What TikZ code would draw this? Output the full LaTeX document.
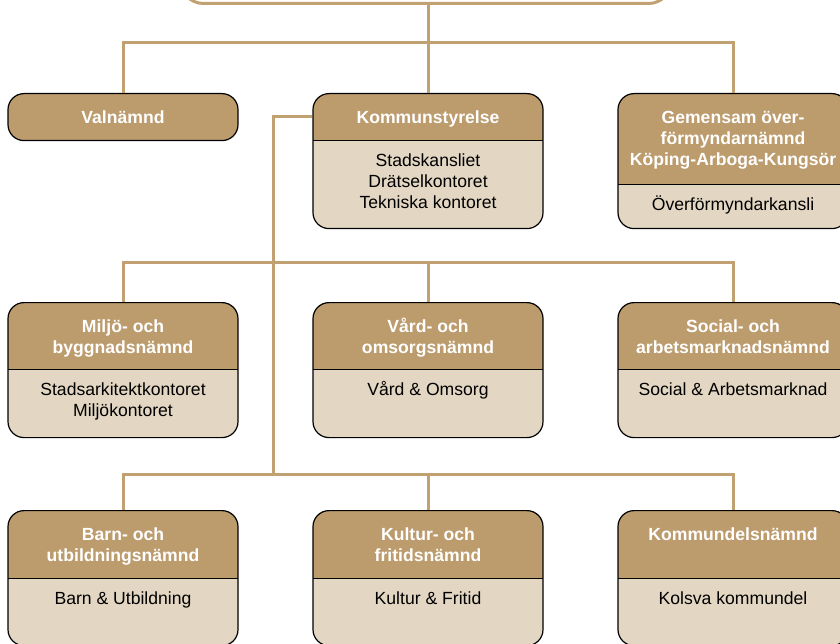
\documentclass[tikz,border=0pt]{standalone}
\usepackage{fontspec}
\setmainfont{Liberation Sans}
\usepackage{tikz}

\definecolor{headc}{HTML}{BC9B6D}
\definecolor{bodyc}{HTML}{E3D7C3}
\definecolor{linkc}{HTML}{C1A071}

\begin{document}
\begin{tikzpicture}[x=1pt, y=-1pt, >=latex,
    link/.style={draw=linkc, line width=3pt},
    org/.style 2 args={draw=black, line width=1.2pt, rounded corners=16pt, fill=bodyc,
        minimum width=230pt, minimum height=#1, inner sep=0pt, anchor=north,
        path picture={
            \fill[headc, sharp corners] (path picture bounding box.north west) rectangle ([yshift=-#2]path picture bounding box.north east);
            \draw[black, line width=1.2pt, sharp corners] ([yshift=-#2]path picture bounding box.north west) -- ([yshift=-#2]path picture bounding box.north east);
        }},
    head/.style={text=white, font=\bfseries\fontsize{17.6}{21}\selectfont, align=center, anchor=north, inner sep=0pt},
    sub/.style={text=black, font=\fontsize{17.6}{21}\selectfont, align=center, anchor=north, inner sep=0pt}]
        \clip (0,0) rectangle (840,644); % рамка

        \node[draw=linkc, line width=3pt, fill=white, rounded corners=23pt, minimum width=491pt, minimum height=80pt, inner sep=0pt, anchor=south] (kf) at (426,5) {}; % верхний блок

        % первый ряд
        \node[org={47pt}{47pt}] (val) at (123,93) {};
        \node[head] (val-h) at ([yshift=-16pt]val.north) {\strut Valnämnd};
        \node[org={135pt}{47pt}] (ks) at (428,93) {};
        \node[head] (ks-h) at ([yshift=-16pt]ks.north) {\strut Kommunstyrelse};
        \node[sub] (ks-b) at ([yshift=-59pt]ks.north) {\strut Stadskansliet\\Drätselkontoret\\Tekniska kontoret};
        \node[org={135pt}{91pt}] (gem) at (733,93) {};
        \node[head] (gem-h) at ([yshift=-16pt]gem.north) {\strut Gemensam över-\\förmyndarnämnd\\Köping-Arboga-Kungsör};
        \node[sub] (gem-b) at ([yshift=-103pt]gem.north) {\strut Överförmyndarkansli};

        % второй ряд
        \node[org={135pt}{67pt}] (milj) at (123,302) {};
        \node[head] (milj-h) at ([yshift=-16pt]milj.north) {\strut Miljö- och\\byggnadsnämnd};
        \node[sub] (milj-b) at ([yshift=-79pt]milj.north) {\strut Stadsarkitektkontoret\\Miljökontoret};
        \node[org={135pt}{67pt}] (vard) at (428,302) {};
        \node[head] (vard-h) at ([yshift=-16pt]vard.north) {\strut Vård- och\\omsorgsnämnd};
        \node[sub] (vard-b) at ([yshift=-79pt]vard.north) {\strut Vård \& Omsorg};
        \node[org={135pt}{67pt}] (soc) at (733,302) {};
        \node[head] (soc-h) at ([yshift=-16pt]soc.north) {\strut Social- och\\arbetsmarknadsnämnd};
        \node[sub] (soc-b) at ([yshift=-79pt]soc.north) {\strut Social \& Arbetsmarknad};

        % третий ряд
        \node[org={135pt}{68pt}] (barn) at (123,510) {};
        \node[head] (barn-h) at ([yshift=-16pt]barn.north) {\strut Barn- och\\utbildningsnämnd};
        \node[sub] (barn-b) at ([yshift=-80pt]barn.north) {\strut Barn \& Utbildning};
        \node[org={135pt}{68pt}] (kult) at (428,510) {};
        \node[head] (kult-h) at ([yshift=-16pt]kult.north) {\strut Kultur- och\\fritidsnämnd};
        \node[sub] (kult-b) at ([yshift=-80pt]kult.north) {\strut Kultur \& Fritid};
        \node[org={135pt}{68pt}] (kdn) at (733,510) {};
        \node[head] (kdn-h) at ([yshift=-16pt]kdn.north) {\strut Kommundelsnämnd};
        \node[sub] (kdn-b) at ([yshift=-80pt]kdn.north) {\strut Kolsva kommundel};

        % линии
        \coordinate (j1) at (428,43);
        \coordinate (j2) at (428,263);
        \coordinate (j3) at (428,474);
        \coordinate (k1) at (273,474);
        \draw[link] (kf.south -| ks.north) -- (ks.north);
        \draw[link] (val.north) |- (j1) -| (gem.north);
        \draw[link] ([yshift=-24pt]ks.north west) -| (k1); % ствол
        \draw[link] (milj.north) |- (j2) -| (soc.north);
        \draw[link] (j2) -- (vard.north);
        \draw[link] (barn.north) |- (j3) -| (kdn.north);
        \draw[link] (j3) -- (kult.north);
    \end{tikzpicture}
\end{document}
